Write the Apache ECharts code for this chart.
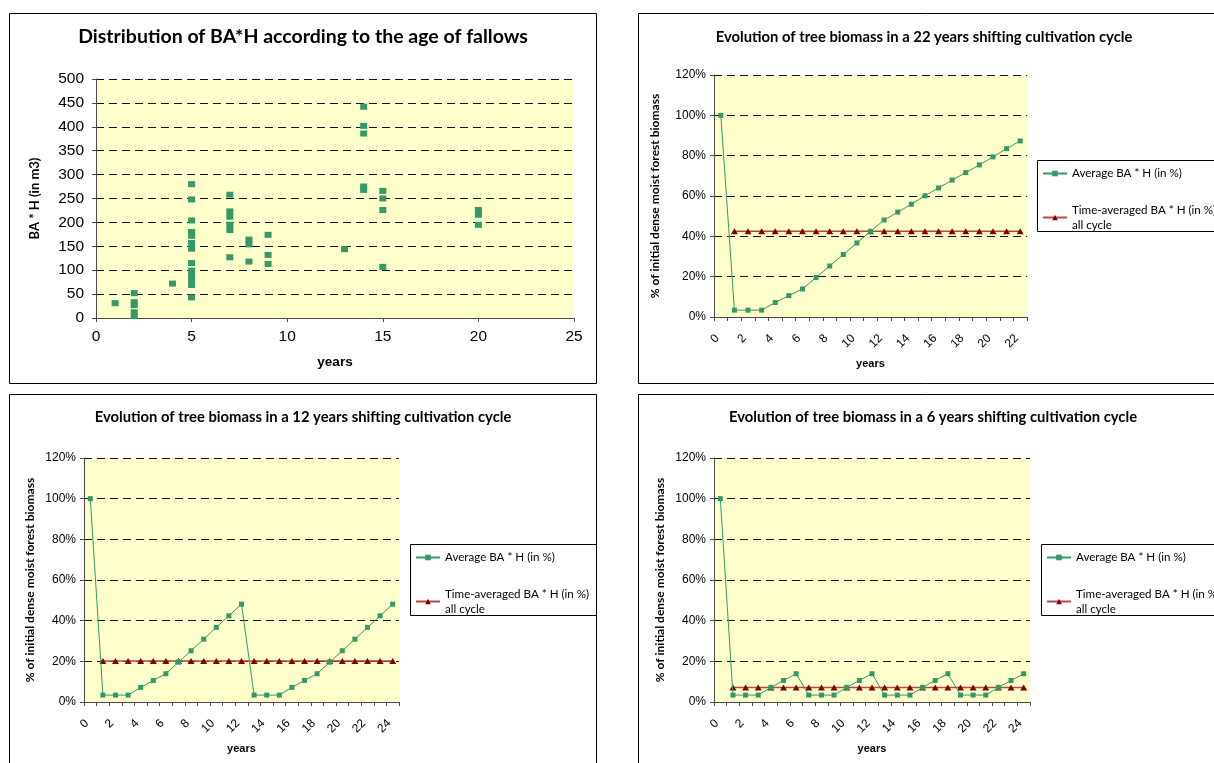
<!DOCTYPE html>
<html>
<head>
<meta charset="utf-8">
<script src="https://cdn.jsdelivr.net/npm/echarts@6/dist/echarts.min.js"></script>
<style>
html,body{margin:0;padding:0;background:#fff;}
#main{width:1214px;height:763px;}
</style>
</head>
<body>
<div id="main"></div>
<script>
// ---------- DATA ----------
const scatterTitle = 'Distribution of BA*H according to the age of fallows';
const fallowAges = [1, 2, 2, 2, 2, 2, 4,
  5, 5, 5, 5, 5, 5, 5, 5, 5, 5, 5, 5, 5,
  7, 7, 7, 7, 7, 7, 8, 8, 8, 9, 9, 9, 13,
  14, 14, 14, 14, 14, 15, 15, 15, 15, 20, 20, 20];
const bahValues = [31, 52, 33, 27, 12, 4, 72,
  280, 248, 204, 180, 172, 157, 145, 115, 99, 90, 80, 69, 43,
  258, 223, 212, 195, 184, 127, 164, 154, 118, 174, 132, 113, 144,
  442, 402, 386, 275, 268, 266, 250, 226, 107, 226, 216, 195];

const years23 = ['0','1','2','3','4','5','6','7','8','9','10','11','12','13','14','15','16','17','18','19','20','21','22'];
const years25 = ['0','1','2','3','4','5','6','7','8','9','10','11','12','13','14','15','16','17','18','19','20','21','22','23','24'];

const avgName = 'Average BA * H (in %)';
const timeAvgName = 'Time-averaged BA * H (in %)';

const avg22 = [100, 3.4, 3.4, 3.4, 7.2, 10.6, 13.9, 19.6, 25.3, 31, 36.7, 42.5, 48.1, 52, 55.9, 60.1, 64, 67.9, 71.6, 75.4, 79.4, 83.5, 87.3];
const timeAvg22 = ['-', 42.5, 42.5, 42.5, 42.5, 42.5, 42.5, 42.5, 42.5, 42.5, 42.5, 42.5, 42.5, 42.5, 42.5, 42.5, 42.5, 42.5, 42.5, 42.5, 42.5, 42.5, 42.5];

const avg12 = [100, 3.4, 3.4, 3.4, 7.2, 10.6, 13.9, 19.6, 25.2, 30.9, 36.7, 42.4, 48.1, 3.4, 3.4, 3.4, 7.2, 10.6, 13.9, 19.6, 25.2, 30.9, 36.7, 42.4, 48.1];
const timeAvg12 = ['-', 20.2, 20.2, 20.2, 20.2, 20.2, 20.2, 20.2, 20.2, 20.2, 20.2, 20.2, 20.2, 20.2, 20.2, 20.2, 20.2, 20.2, 20.2, 20.2, 20.2, 20.2, 20.2, 20.2, 20.2];

const avg6 = [100, 3.4, 3.4, 3.4, 7.2, 10.6, 13.9, 3.4, 3.4, 3.4, 7.2, 10.6, 13.9, 3.4, 3.4, 3.4, 7.2, 10.6, 13.9, 3.4, 3.4, 3.4, 7.2, 10.6, 13.9];
const timeAvg6 = ['-', 7.1, 7.1, 7.1, 7.1, 7.1, 7.1, 7.1, 7.1, 7.1, 7.1, 7.1, 7.1, 7.1, 7.1, 7.1, 7.1, 7.1, 7.1, 7.1, 7.1, 7.1, 7.1, 7.1, 7.1];

const lineTitles = [
  'Evolution of tree biomass in a 22 years shifting cultivation cycle',
  'Evolution of tree biomass in a 12 years shifting cultivation cycle',
  'Evolution of tree biomass in a 6 years shifting cultivation cycle'
];
const yNamePct = '% of initial dense moist forest biomass';

// ---------- STYLE ----------
const GREEN = '#339966';
const DARKRED = '#800000';
const REDLINE = '#B04A45';
const PLOTBG = '#FFFFCC';
const AXISC = '#4a4a4a';
const ARIAL = '"Liberation Sans", Arial, sans-serif';
const CAL = 'Lato, "Open Sans", sans-serif';

const scatterPoints = fallowAges.map((a, i) => [a, bahValues[i]]);

const gridBase = {show: true, backgroundColor: PLOTBG, borderWidth: 0, containLabel: false};
const grids = [
  Object.assign({left: 96, top: 79, width: 478, height: 239}, gridBase),
  Object.assign({left: 714, top: 75, width: 313, height: 242}, gridBase),
  Object.assign({left: 84, top: 458, width: 315, height: 244}, gridBase),
  Object.assign({left: 714, top: 458, width: 316, height: 244}, gridBase)
];

const dashed = {show: true, lineStyle: {color: '#111', width: 1, type: [8, 5]}};

function catX(gi, cats) {
  return {
    type: 'category', gridIndex: gi, data: cats, boundaryGap: true,
    name: 'years', nameLocation: 'middle', nameGap: 41,
    nameTextStyle: {fontFamily: ARIAL, fontWeight: 'bold', fontSize: 11, color: '#000'},
    axisLine: {show: true, lineStyle: {color: AXISC, width: 1}},
    axisTick: {show: true, interval: 0, alignWithLabel: false, length: 4, lineStyle: {color: AXISC}},
    axisLabel: {interval: 1, rotate: 45, margin: 16, fontFamily: ARIAL, fontSize: 12, color: '#000', padding: [0, 5, 10, 0]},
    splitLine: {show: false}
  };
}
function pctY(gi, gap) {
  return {
    type: 'value', gridIndex: gi, min: 0, max: 120, interval: 20,
    name: yNamePct, nameLocation: 'middle', nameRotate: 90, nameGap: gap,
    nameTextStyle: {fontFamily: CAL, fontWeight: 'bold', fontSize: 12, color: '#000'},
    axisLine: {show: true, lineStyle: {color: AXISC, width: 1}},
    axisTick: {show: true, length: 4, lineStyle: {color: AXISC}},
    axisLabel: {formatter: '{value}%', margin: 8, fontFamily: ARIAL, fontSize: 12, color: '#000'},
    splitLine: dashed
  };
}
function lineSeries(idx, avgData, taData) {
  return [
    {name: avgName, type: 'line', xAxisIndex: idx, yAxisIndex: idx, data: avgData,
     symbol: 'rect', symbolSize: 5, showAllSymbol: true,
     lineStyle: {color: GREEN, width: 1}, itemStyle: {color: GREEN}, z: 3},
    {name: timeAvgName, type: 'line', xAxisIndex: idx, yAxisIndex: idx, data: taData,
     symbol: 'triangle', symbolSize: [7, 6], showAllSymbol: true,
     lineStyle: {color: REDLINE, width: 1.5}, itemStyle: {color: DARKRED}, z: 2}
  ];
}
function legendAt(left, top) {
  return {
    left: left, top: top, orient: 'vertical', padding: [5, 4, 1, 5], itemGap: 14,
    itemWidth: 24, itemHeight: 7, borderWidth: 0, selectedMode: false,
    textStyle: {fontFamily: CAL, fontSize: 11.6, lineHeight: 15, color: '#000'},
    formatter: function (n) { return n === timeAvgName ? n + '\nall cycle' : n; },
    data: [{name: avgName}, {name: timeAvgName, textStyle: {padding: [15, 0, 0, 0]}}]
  };
}
function titleAt(text, cx, top, size) {
  return {text: text, left: cx, top: top, textAlign: 'center', padding: 0,
    textStyle: {fontFamily: CAL, fontWeight: 'bold', fontSize: size, color: '#000'}};
}
function box(x, y, w, h) {
  return {type: 'rect', silent: true, z: 0, shape: {x: x, y: y, width: w, height: h},
    style: {fill: 'none', stroke: '#000', lineWidth: 1}};
}

const option = {
  backgroundColor: '#fff',
  animation: false,
  graphic: [
    box(9.5, 13.5, 587, 370), box(638.5, 13.5, 620, 370), box(9.5, 394.5, 587, 420), box(638.5, 394.5, 620, 420),
    box(1037.5, 160.5, 300, 71), box(410.5, 544.5, 186, 71), box(1041.5, 544.5, 300, 71)
  ],
  title: [
    titleAt(scatterTitle, 303, 27, 19.5),
    titleAt(lineTitles[0], 924, 29.5, 14.8),
    titleAt(lineTitles[1], 303, 409.5, 14.8),
    titleAt(lineTitles[2], 933, 409.5, 14.8)
  ],
  legend: [legendAt(1037, 161), legendAt(410, 545), legendAt(1041, 545)],
  grid: grids,
  xAxis: [
    {type: 'value', gridIndex: 0, min: 0, max: 25, interval: 5,
     name: 'years', nameLocation: 'middle', nameGap: 37,
     nameTextStyle: {fontFamily: ARIAL, fontWeight: 'bold', fontSize: 13.5, color: '#000'},
     axisLine: {show: true, onZero: false, lineStyle: {color: AXISC}},
     axisTick: {show: true, length: 4, lineStyle: {color: AXISC}},
     axisLabel: {margin: 11, fontFamily: ARIAL, fontSize: 15.5, color: '#000'},
     splitLine: {show: false}},
    catX(1, years23), catX(2, years25), catX(3, years25)
  ],
  yAxis: [
    {type: 'value', gridIndex: 0, min: 0, max: 500, interval: 50,
     name: 'BA * H (in m3)', nameLocation: 'middle', nameRotate: 90, nameGap: 54.5,
     nameTextStyle: {fontFamily: CAL, fontWeight: 'bold', fontSize: 13, color: '#000'},
     axisLine: {show: true, lineStyle: {color: AXISC}},
     axisTick: {show: true, length: 4, lineStyle: {color: AXISC}},
     axisLabel: {margin: 12, fontFamily: ARIAL, fontSize: 15.5, color: '#000'},
     splitLine: dashed},
    pctY(1, 53), pctY(2, 48), pctY(3, 48)
  ],
  series: [
    {name: 'BA*H', type: 'scatter', xAxisIndex: 0, yAxisIndex: 0, data: scatterPoints,
     symbol: 'rect', symbolSize: [7, 6], itemStyle: {color: GREEN, opacity: 1}}
  ].concat(lineSeries(1, avg22, timeAvg22), lineSeries(2, avg12, timeAvg12), lineSeries(3, avg6, timeAvg6))
};

const chart = echarts.init(document.getElementById('main'), null, {renderer: 'canvas'});
chart.setOption(option);
</script>
</body>
</html>
